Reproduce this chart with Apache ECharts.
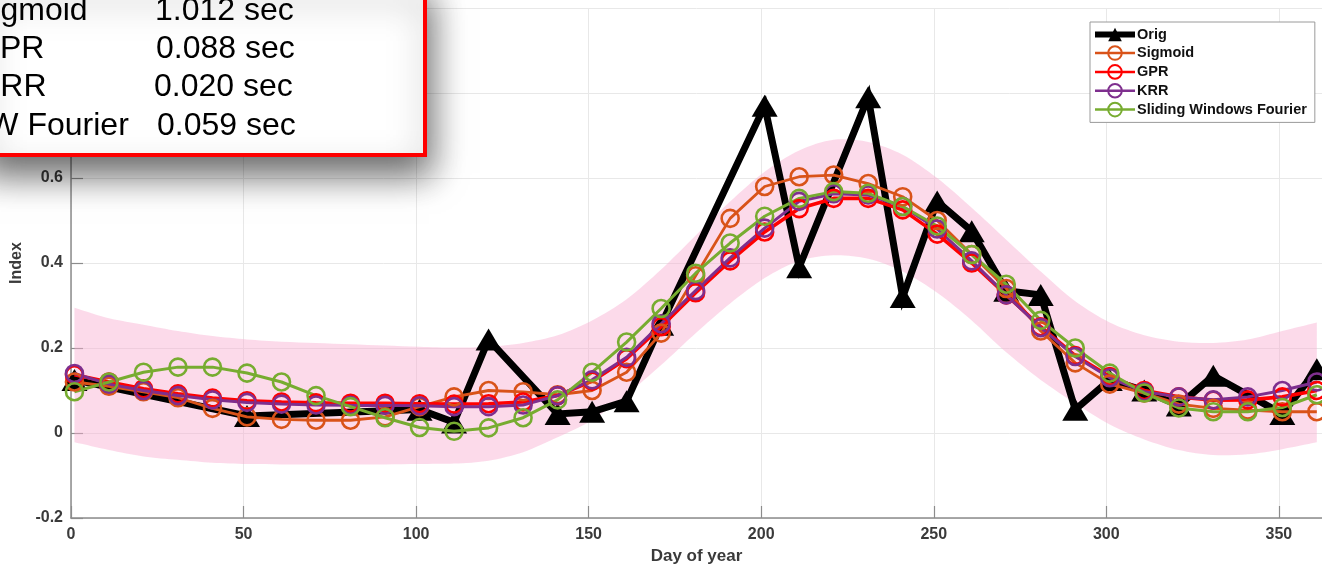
<!DOCTYPE html>
<html>
<head>
<meta charset="utf-8">
<script src="https://cdn.jsdelivr.net/npm/echarts@6/dist/echarts.min.js"></script>
<style>
html, body { margin: 0; padding: 0; background: #fff; }
#chart { width: 1322px; height: 570px; }
</style>
</head>
<body>
<div id="chart"></div>
<script>
// sample days of the fitted curves
const days = [1, 11, 21, 31, 41, 51, 61, 71, 81, 91, 101, 111, 121, 131, 141, 151, 161, 171, 181,
    191, 201, 211, 221, 231, 241, 251, 261, 271, 281, 291, 301, 311, 321, 331, 341, 351, 361];

const sigmoid = [0.12, 0.11, 0.097, 0.083, 0.058, 0.038, 0.032, 0.03, 0.03, 0.038,
    0.062, 0.085, 0.1, 0.097, 0.09, 0.1, 0.143, 0.235, 0.37, 0.505,
    0.58, 0.603, 0.607, 0.587, 0.556, 0.5, 0.42, 0.34, 0.24, 0.165,
    0.115, 0.094, 0.068, 0.058, 0.054, 0.05, 0.05];
const gpr = [0.137, 0.12, 0.104, 0.092, 0.082, 0.076, 0.073, 0.071, 0.07, 0.07,
    0.069, 0.068, 0.069, 0.073, 0.088, 0.122, 0.175, 0.25, 0.33, 0.405,
    0.473, 0.528, 0.552, 0.552, 0.525, 0.468, 0.4, 0.325, 0.25, 0.182,
    0.133, 0.1, 0.085, 0.077, 0.078, 0.085, 0.1];
const krr = [0.14, 0.115, 0.1, 0.088, 0.078, 0.072, 0.068, 0.066, 0.065, 0.065,
    0.064, 0.062, 0.062, 0.066, 0.088, 0.125, 0.178, 0.257, 0.335, 0.412,
    0.482, 0.545, 0.563, 0.56, 0.533, 0.48, 0.405, 0.325, 0.248, 0.18,
    0.13, 0.097, 0.085, 0.078, 0.085, 0.1, 0.12];
const swf = [0.097, 0.12, 0.143, 0.155, 0.155, 0.141, 0.12, 0.088, 0.062, 0.036,
    0.013, 0.004, 0.012, 0.036, 0.078, 0.143, 0.214, 0.293, 0.376, 0.447,
    0.51, 0.552, 0.568, 0.564, 0.533, 0.487, 0.42, 0.35, 0.265, 0.2,
    0.141, 0.094, 0.059, 0.05, 0.05, 0.06, 0.09];

// pink uncertainty band
const bandUpper = [0.295, 0.27, 0.255, 0.24, 0.228, 0.22, 0.215, 0.212, 0.209, 0.206,
    0.203, 0.201, 0.203, 0.212, 0.23, 0.265, 0.315, 0.385, 0.465, 0.545,
    0.615, 0.665, 0.69, 0.685, 0.655, 0.6, 0.53, 0.455, 0.38, 0.31,
    0.26, 0.23, 0.215, 0.212, 0.22, 0.24, 0.26];
const bandLower = [-0.022, -0.04, -0.055, -0.063, -0.07, -0.073, -0.074, -0.074, -0.074, -0.074,
    -0.073, -0.072, -0.065, -0.045, -0.01, 0.03, 0.09, 0.16, 0.235, 0.305,
    0.365, 0.405, 0.418, 0.41, 0.38, 0.33, 0.265, 0.19, 0.125, 0.07,
    0.02, -0.015, -0.04, -0.052, -0.05, -0.038, -0.022];

// original observations
const origDays = [1, 51, 101, 111, 121, 141, 151, 161, 171, 201, 211, 231,
    241, 251, 261, 271, 281, 291, 301, 311, 321, 331, 351, 361];
const origValues = [0.125, 0.04, 0.055, 0.025, 0.22, 0.045, 0.05, 0.075, 0.255, 0.77, 0.39, 0.79,
    0.32, 0.545, 0.475, 0.335, 0.325, 0.055, 0.125, 0.1, 0.065, 0.135, 0.045, 0.15];

// timing box
const methodLabels = ['Sigmoid', 'GPR', 'KRR', 'SW Fourier'];
const methodTimes = ['1.012 sec', '0.088 sec', '0.020 sec', '0.059 sec'];

const pairs = (xs, ys) => xs.map((x, i) => [x, ys[i]]);

function fitSeries(name, color, values, width) {
    return {
        name: name,
        type: 'line',
        data: pairs(days, values),
        symbol: 'circle',
        symbolSize: 17,
        lineStyle: { color: color, width: width },
        itemStyle: { color: 'rgba(0,0,0,0)', borderColor: color, borderWidth: 2.6 },
        z: 3
    };
}

const labelFont = { fontFamily: 'Liberation Sans', fontWeight: 'bold', color: '#3a3a3a' };

const boxItems = [{
    type: 'rect',
    z: 100,
    zlevel: 1,
    shape: { x: -20, y: -20, width: 445, height: 175 },
    style: {
        fill: '#fff', stroke: '#ff0000', lineWidth: 4,
        shadowBlur: 34, shadowOffsetY: 18, shadowOffsetX: 4, shadowColor: 'rgba(0,0,0,0.6)'
    }
}];
const rowY = [11, 49, 87, 126];
const labelX = [-28, -25, -21, -33];
const timeX = [155, 156, 154, 157];
methodLabels.forEach(function (lab, i) {
    boxItems.push({
        type: 'text', x: labelX[i], y: rowY[i], z: 101, zlevel: 1,
        style: { text: lab, font: '32px "Liberation Sans"', fill: '#000', verticalAlign: 'middle' }
    });
    boxItems.push({
        type: 'text', x: timeX[i], y: rowY[i], z: 101, zlevel: 1,
        style: { text: methodTimes[i], font: '32px "Liberation Sans"', fill: '#000', verticalAlign: 'middle' }
    });
});

const option = {
    animation: false,
    backgroundColor: '#fff',
    grid: { left: 71, right: 0, top: 5, bottom: 50 },
    legend: {
        orient: 'vertical',
        left: 1090,
        top: 22,
        itemWidth: 40,
        itemHeight: 17,
        itemGap: 3.25,
        padding: [5, 8, 5, 2],
        backgroundColor: '#fff',
        borderColor: '#9a9a9a',
        borderWidth: 1,
        textStyle: { fontFamily: 'Liberation Sans', fontWeight: 'bold', fontSize: 14.5, color: '#111', padding: [0, 0, 0, -3] },
        data: [
            { name: 'Orig', lineStyle: { width: 6 } },
            { name: 'Sigmoid', lineStyle: { width: 2.5 } },
            { name: 'GPR', lineStyle: { width: 2.5 } },
            { name: 'KRR', lineStyle: { width: 2.5 } },
            { name: 'Sliding Windows Fourier', lineStyle: { width: 2.5 } }
        ]
    },
    xAxis: {
        type: 'value',
        min: 0,
        max: 362.5,
        interval: 50,
        name: 'Day of year',
        nameLocation: 'middle',
        nameGap: 30,
        nameTextStyle: Object.assign({ fontSize: 17 }, labelFont),
        axisLine: { onZero: false, lineStyle: { color: '#8c8c8c', width: 1.5 } },
        axisTick: { inside: true, length: 12, lineStyle: { color: '#8c8c8c', width: 1.2 } },
        axisLabel: Object.assign({ fontSize: 16, margin: 9, showMaxLabel: false }, labelFont),
        splitLine: { show: true, lineStyle: { color: '#e8e8e8', width: 1 } }
    },
    yAxis: {
        type: 'value',
        min: -0.2,
        max: 1.0,
        interval: 0.2,
        name: 'Index',
        nameLocation: 'middle',
        nameGap: 34,
        nameTextStyle: Object.assign({ fontSize: 16 }, labelFont),
        axisLine: { show: true, onZero: false, lineStyle: { color: '#8c8c8c', width: 1.5 } },
        axisTick: { show: true, inside: true, length: 12, lineStyle: { color: '#8c8c8c', width: 1.2 } },
        axisLabel: Object.assign({ fontSize: 16, margin: 8, formatter: function (v) { return String(+v.toFixed(1)); } }, labelFont),
        splitLine: { show: true, lineStyle: { color: '#e8e8e8', width: 1 } }
    },
    series: [
        {
            name: 'band',
            type: 'custom',
            data: days.map((d, i) => [d, bandLower[i], bandUpper[i]]),
            encode: { x: 0, y: [1, 2] },
            silent: true,
            z: 1,
            renderItem: function (params, api) {
                if (params.dataIndex !== 0) return null;
                const top = [], bottom = [];
                for (let i = 0; i < days.length; i++) {
                    top.push(api.coord([days[i], bandUpper[i]]));
                    bottom.push(api.coord([days[i], bandLower[i]]));
                }
                bottom.reverse();
                // repeat the four corners so the smoothing keeps the ends square
                const pts = [top[0]].concat(top, [top[top.length - 1]], [bottom[0]], bottom, [bottom[bottom.length - 1]]);
                return {
                    type: 'polygon',
                    shape: { points: pts, smooth: 0.3 },
                    style: { fill: 'rgba(248,173,208,0.45)' }
                };
            }
        },
        {
            name: 'Orig',
            type: 'line',
            data: pairs(origDays, origValues),
            symbol: 'triangle',
            symbolSize: [26, 22],
            lineStyle: { color: '#000', width: 7, join: 'miter' },
            itemStyle: { color: '#000' },
            z: 2
        },
        fitSeries('Sigmoid', '#D95319', sigmoid, 2.8),
        fitSeries('GPR', '#FF0000', gpr, 3.6),
        fitSeries('KRR', '#7E2F8E', krr, 3),
        fitSeries('Sliding Windows Fourier', '#77AC30', swf, 3)
    ],
    graphic: boxItems
};

const chart = echarts.init(document.getElementById('chart'));
chart.setOption(option);
</script>
</body>
</html>
